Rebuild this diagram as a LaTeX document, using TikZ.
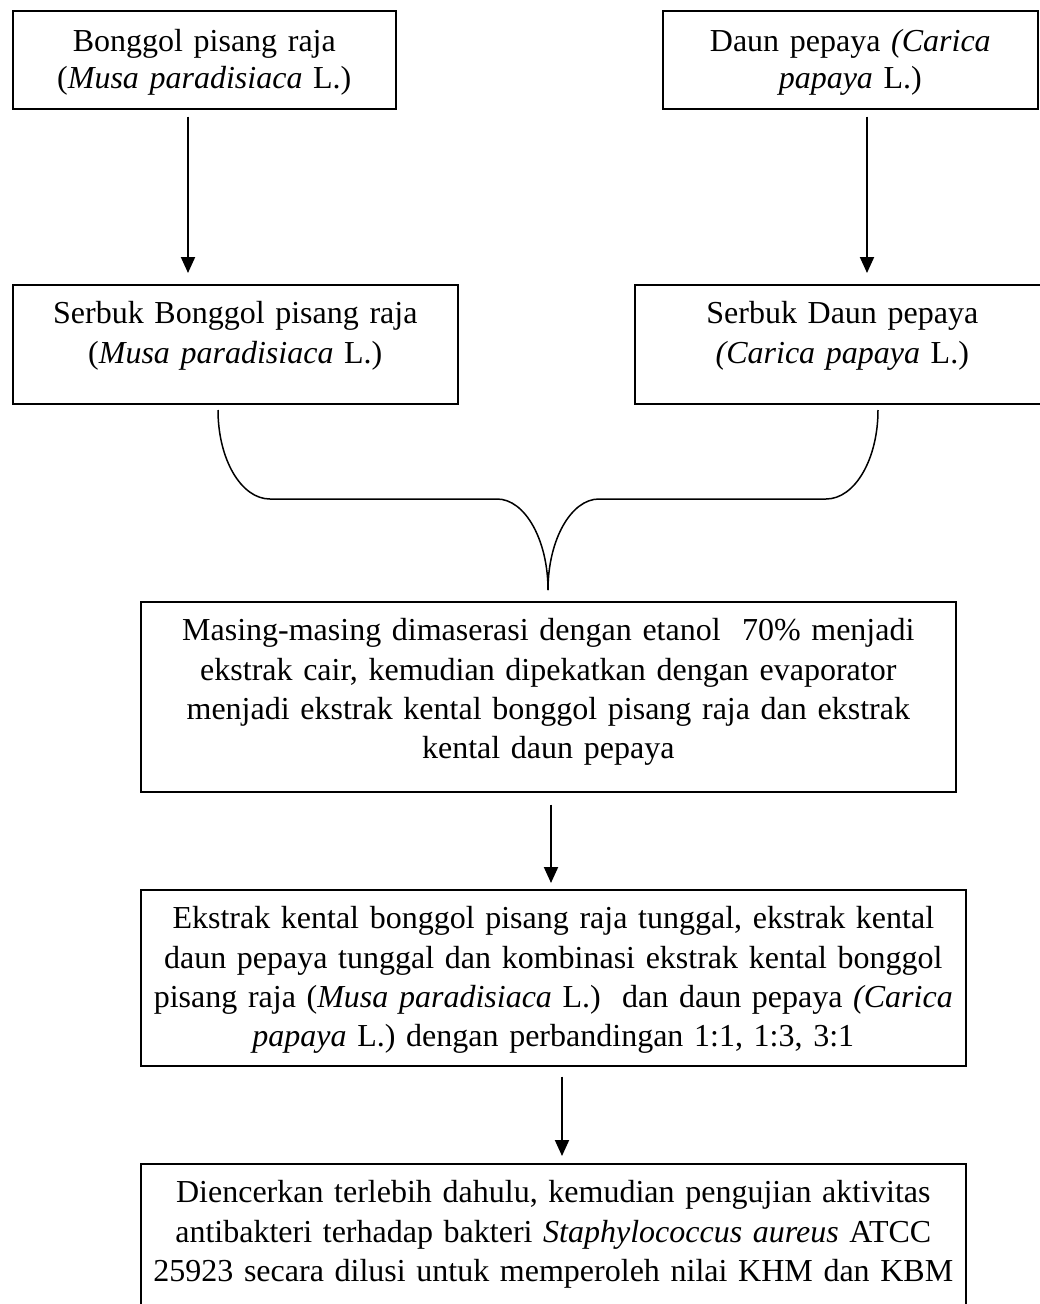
\documentclass[tikz,border=0pt]{standalone}
\usepackage{fontspec}
\setmainfont{Liberation Serif}
\usetikzlibrary{arrows.meta}
\tikzset{
  box/.style={draw, line width=1.6pt, rectangle, inner sep=0pt, align=center, anchor=north west, font=\fontsize{32}{39.3}\selectfont},
  topbox/.style={box, font=\fontsize{32}{37}\selectfont},
  arr/.style={line width=2pt, -{Triangle[width=14pt,length=16pt]}},
  brace/.style={line width=1.5pt}
}
\begin{document}
\begin{tikzpicture}[x=1pt,y=-1pt]
\fill[white] (0,0) rectangle (1040,1304);
\useasboundingbox (0,0) rectangle (1040,1304);

\node[topbox, text width=383pt] (b1) at (12,10) {\rule{0pt}{41pt}Bonggol pisang raja\\(\textit{Musa paradisiaca} L.)\rule[-20pt]{0pt}{20pt}};
\node[topbox, text width=375pt] (b2) at (662,10) {\rule{0pt}{41pt}Daun pepaya \textit{(Carica}\\\textit{papaya} L.)\rule[-20pt]{0pt}{20pt}};

\node[box, text width=445pt] (b3) at (12,284) {\rule{0pt}{39pt}Serbuk Bonggol pisang raja\\(\textit{Musa paradisiaca} L.)\rule[-41pt]{0pt}{41pt}};
\node[box, text width=415pt] (b4) at (634,284) {\rule{0pt}{39pt}Serbuk Daun pepaya\\\textit{(Carica papaya} L.)\rule[-41pt]{0pt}{41pt}};

\node[box, text width=815pt] (b5) at (140,601) {\rule{0pt}{39pt}Masing-masing dimaserasi dengan etanol\ \ 70\%\ menjadi\\ekstrak cair, kemudian dipekatkan dengan evaporator\\menjadi ekstrak kental bonggol pisang raja dan ekstrak\\kental daun pepaya\rule[-33pt]{0pt}{33pt}};

\node[box, text width=825pt] (b6) at (140,889) {\rule{0pt}{39pt}Ekstrak kental bonggol pisang raja tunggal, ekstrak kental\\daun pepaya tunggal dan kombinasi ekstrak kental bonggol\\pisang raja (\textit{Musa paradisiaca} L.)\ \ dan daun pepaya \textit{(Carica}\\\textit{papaya} L.) dengan perbandingan 1:1, 1:3, 3:1\rule[-19pt]{0pt}{19pt}};

\node[box, text width=825pt] (b7) at (140,1163) {\rule{0pt}{39pt}Diencerkan terlebih dahulu, kemudian pengujian aktivitas\\antibakteri terhadap bakteri \textit{Staphylococcus aureus} ATCC\\25923 secara dilusi untuk memperoleh nilai KHM dan KBM\rule[-40pt]{0pt}{40pt}};

\coordinate (a1) at (188,0);
\coordinate (a2) at (867,0);
\coordinate (a3) at (551,0);
\coordinate (a4) at (562,0);
\draw[arr] ([yshift=-7pt]b1.south -| a1) -- ([yshift=11pt]b3.north -| a1);
\draw[arr] ([yshift=-7pt]b2.south -| a2) -- ([yshift=11pt]b4.north -| a2);
\draw[arr] ([yshift=-12pt]b5.south -| a3) -- ([yshift=6pt]b6.north -| a3);
\draw[arr] ([yshift=-10pt]b6.south -| a4) -- ([yshift=7pt]b7.north -| a4);

\coordinate (bl) at (218,410);
\coordinate (br) at (878,410);
\coordinate (cusp) at (548,590);
\draw[brace] (bl) .. controls (218,459) and (241,499) .. (270,499) -- (497,499) .. controls (525,499) and (548,540) .. (cusp);
\draw[brace] (br) .. controls (878,459) and (855,499) .. (826,499) -- (599,499) .. controls (571,499) and (548,540) .. (cusp);
\end{tikzpicture}
\end{document}
